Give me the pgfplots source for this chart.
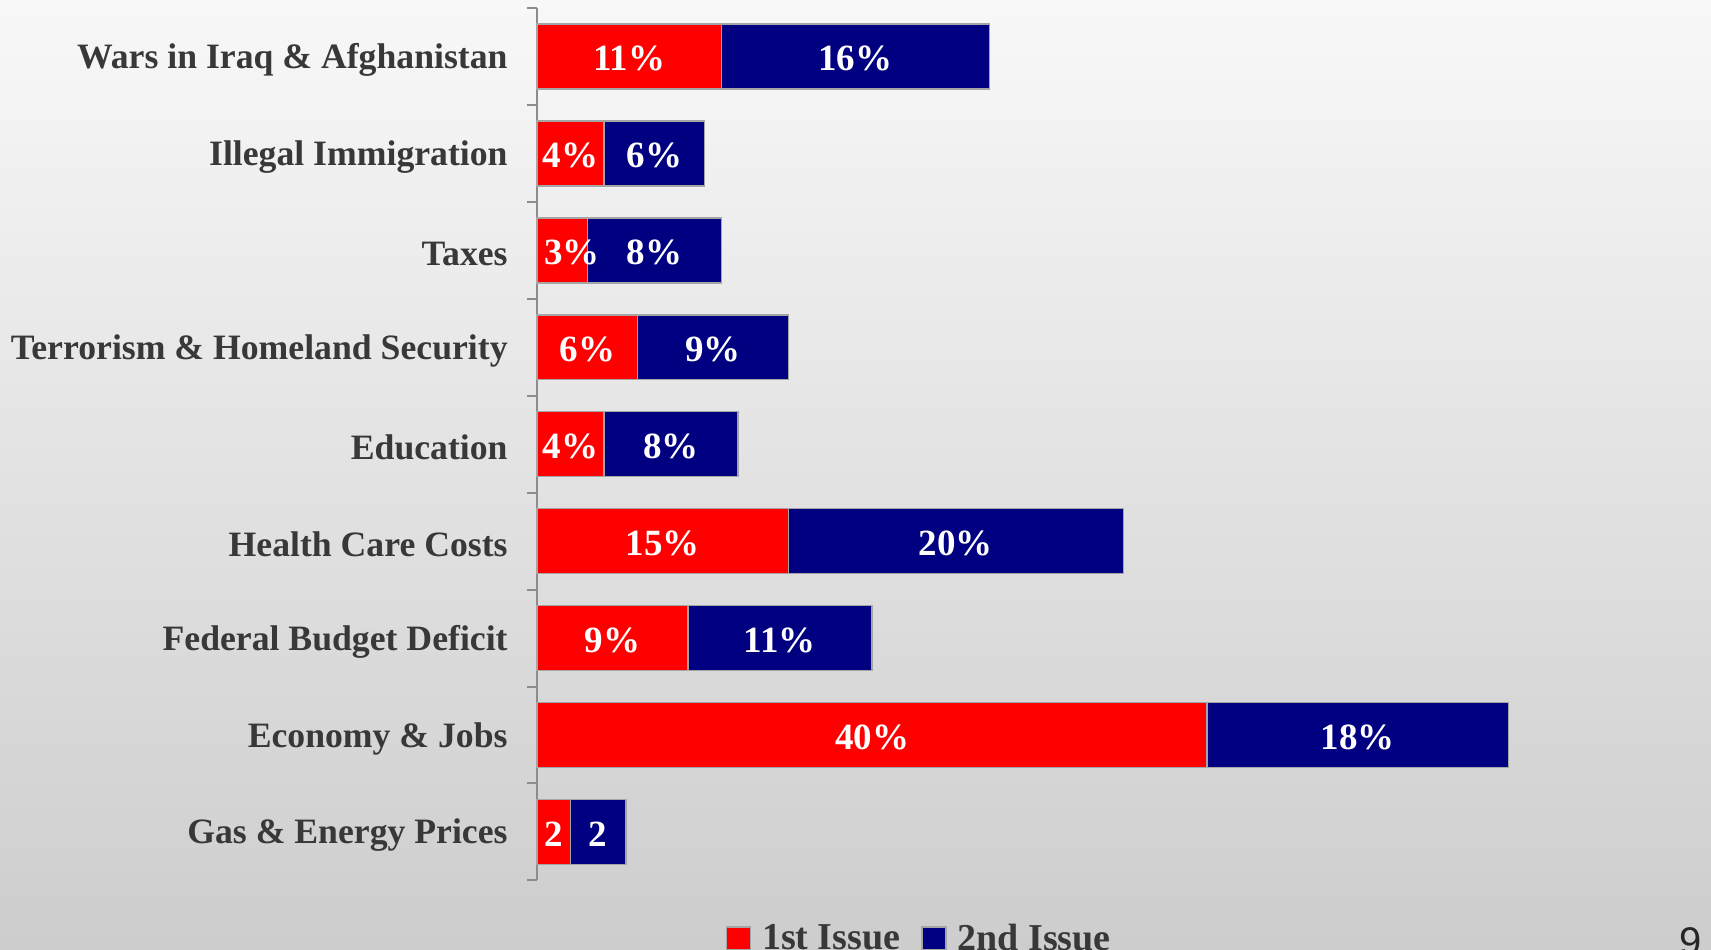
\documentclass[border=0pt]{standalone}
\usepackage{pgfplots}
\pgfplotsset{compat=1.18}
\usepackage{pgfplotstable}
\usepackage{fontspec}
\setmainfont{Liberation Serif}
\setsansfont{Liberation Sans}
\definecolor{barred}{RGB}{255,0,0}
\definecolor{barblue}{RGB}{0,0,128}
\definecolor{labgray}{RGB}{56,56,56}
\definecolor{edge}{RGB}{165,165,165}
\definecolor{axgray}{RGB}{140,140,140}

% y: category position, a: 1st issue, b: 2nd issue, xa: position of the 1st-issue label
\pgfplotstableread{
y a b xa la lb
8 11 16 5.5 11\% 16\%
7 4 6 2 4\% 6\%
6 3 8 2.1 3\% 8\%
5 6 9 3 6\% 9\%
4 4 8 2 4\% 8\%
3 15 20 7.5 15\% 20\%
2 9 11 4.5 9\% 11\%
1 40 18 20 40\% 18\%
0 2 3.3 1 2 2
}\datatable

\begin{document}
\begin{tikzpicture}
\useasboundingbox (0,0) rectangle (855.5pt,474.5pt);
\shade[top color={rgb,255:red,248;green,248;blue,248}, bottom color={rgb,255:red,205;green,205;blue,205}] (0,0) rectangle (855.5pt,474.5pt);
\begin{axis}[
  at={(268.5pt,34.3pt)}, anchor=south west,
  scale only axis, width=544.4pt, height=436.2pt,
  xmin=0, xmax=65, ymin=-0.5, ymax=8.5,
  clip=false,
  axis x line=none, axis y line*=left,
  axis line style={draw=axgray, line width=1pt},
  ytick={0,1,2,3,4,5,6,7,8},
  yticklabels={Gas \& Energy Prices, Economy \& Jobs, Federal Budget Deficit, Health Care Costs, Education, Terrorism \& Homeland Security, Taxes, Illegal Immigration, Wars in Iraq \& Afghanistan},
  major tick length=0pt,
  minor ytick={-0.5,0.5,1.5,2.5,3.5,4.5,5.5,6.5,7.5,8.5},
  minor tick length=5pt,
  tick align=outside,
  minor tick style={draw=axgray, line width=1pt},
  yticklabel style={font=\fontsize{17.85}{20}\selectfont\bfseries, text=labgray, inner sep=0pt, xshift=-14.5pt, yshift=-1.8pt},
  bar width=0.67,
  legend style={at={(0.352,-0.067)}, anchor=center, draw=none, fill=none,
    legend columns=2, font=\fontsize{19}{21}\selectfont\bfseries, text=labgray,
    /tikz/every even column/.append style={column sep=8.5pt}},
  legend cell align=left,
]
\addlegendimage{legend image code/.code={\draw[fill=barred,draw=edge,line width=0.75pt] (0pt,-5.5pt) rectangle (12pt,6pt); \path (15.5pt,0pt);}}
\addlegendentry{1st Issue}
\addlegendimage{legend image code/.code={\draw[fill=barblue,draw=edge,line width=0.75pt] (0pt,-5.5pt) rectangle (12pt,6pt); \path (15.5pt,0pt);}}
\addlegendentry{2nd Issue}

\addplot[forget plot, xbar, bar shift=0pt, fill=barblue, draw=edge, line width=0.75pt]
  table[x expr=\thisrow{a}+\thisrow{b}, y=y] {\datatable};
\addplot[forget plot, xbar, bar shift=0pt, fill=barred, draw=edge, line width=0.75pt]
  table[x=a, y=y] {\datatable};

\addplot[forget plot, draw=none, mark=none, nodes near coords, point meta=explicit symbolic,
  every node near coord/.append style={anchor=center, text=white, font=\fontsize{18.5}{20}\selectfont\bfseries, inner sep=0pt, yshift=-1pt}]
  table[x=xa, y=y, meta=la] {\datatable};
\addplot[forget plot, draw=none, mark=none, nodes near coords, point meta=explicit symbolic,
  every node near coord/.append style={anchor=center, text=white, font=\fontsize{18.5}{20}\selectfont\bfseries, inner sep=0pt, yshift=-1pt}]
  table[x expr=\thisrow{a}+\thisrow{b}/2, y=y, meta=lb] {\datatable};
\end{axis}
\node[anchor=base, font=\sffamily\fontsize{20}{20}\selectfont, text=black!85] at (845.5pt,-3.3pt) {9};
\end{tikzpicture}
\end{document}
